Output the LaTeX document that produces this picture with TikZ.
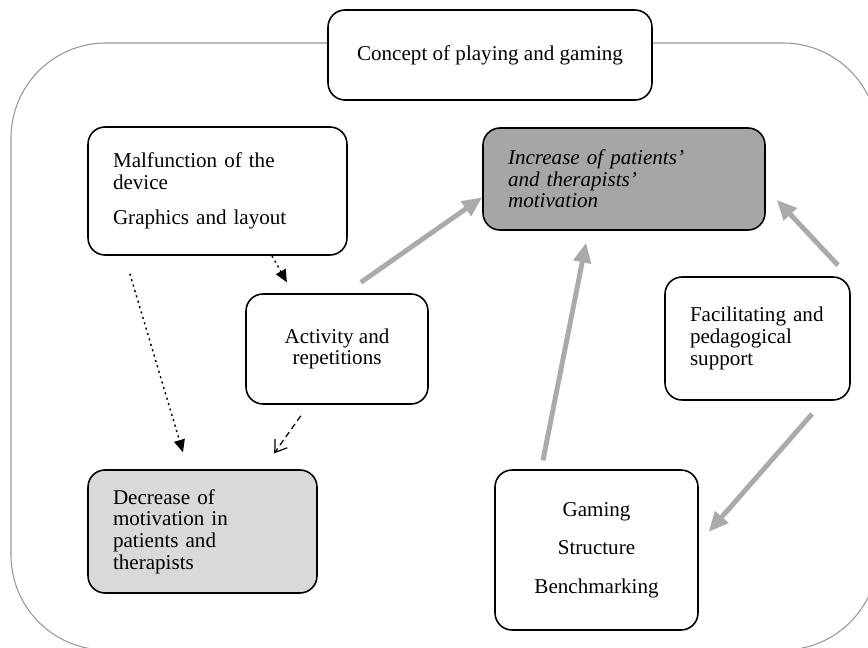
\documentclass[tikz,border=0pt]{standalone}
\usepackage{fontspec}
\setmainfont{Liberation Serif}
\usepackage{xcolor}
\usepackage{tikz}
\usetikzlibrary{arrows.meta,calc}

\definecolor{incgray}{RGB}{166,166,168}
\definecolor{decgray}{RGB}{217,217,219}
\definecolor{arrowgray}{RGB}{170,170,172}
\definecolor{framegray}{RGB}{150,150,150}

\begin{document}
\begin{tikzpicture}[x=0.02cm, y=-0.02cm, font=\fontsize{12}{12.3}\selectfont]
    % Define styles
    \tikzstyle{box} = [rectangle, draw, line width=0.9pt, fill=white, rounded corners=0.34cm, inner sep=0pt]
    \tikzstyle{grayarrow} = [draw=arrowgray, line width=2.8pt, -{Triangle[length=0.4cm, width=0.34cm]}]
    \tikzstyle{dotarrow} = [draw, line width=0.8pt, dash pattern=on 1.2pt off 2pt, -{Triangle[length=0.25cm, width=0.22cm]}]
    \tikzstyle{dasharrow} = [draw, line width=0.7pt, dash pattern=on 3.4pt off 2.3pt, -{Straight Barb[length=0.22cm, width=0.3cm]}]

    \useasboundingbox (0,0) rectangle (868,648);

    % Outer frame
    \begin{scope}
        \clip (0,0) rectangle (868,648);
        \draw [framegray, line width=0.6pt, rounded corners=1.9cm] (11,43) rectangle (878,650);
    \end{scope}

    % Boxes
    \node [box, minimum width=6.48cm, minimum height=1.8cm] (concept) at (490,55) {Concept of playing and gaming};
    \node [box, minimum width=5.18cm, minimum height=2.56cm, text width=4.18cm, align=left] (malf) at (217.5,191) {Malfunction of the\\device\\[8pt]Graphics and layout};
    \node [box, fill=incgray, minimum width=5.64cm, minimum height=2.04cm, text width=4.64cm, align=left] (incr) at (624,179) {\textit{Increase of patients'\\and therapists'\\motivation}};
    \node [box, minimum width=3.64cm, minimum height=2.2cm, align=center] (act) at (337,349) {Activity and\\repetitions};
    \node [box, minimum width=3.7cm, minimum height=2.46cm, text width=2.7cm, align=left] (facil) at (757.5,338.5) {Facilitating and\\pedagogical\\support};
    \node [box, minimum width=4.06cm, minimum height=3.2cm, align=center] (gam) at (596.5,550) {Gaming\\[9.5pt]Structure\\[9.5pt]Benchmarking};
    \node [box, fill=decgray, minimum width=4.58cm, minimum height=2.46cm, text width=3.58cm, align=left] (decr) at (202.5,531.5) {Decrease of\\motivation in\\patients and\\therapists};

    % Arrows
    \draw [dotarrow, shorten <=0.375cm, shorten >=0.354cm] ($(malf.south)+(-93,0)$) -- ($(decr.north)+(-14.5,0)$);
    \draw [dotarrow, shorten >=0.25cm] ($(malf.south)+(54.5,0)$) -- ($(act.north)+(-44,0)$);
    \draw [dasharrow, shorten <=0.27cm, shorten >=0.39cm] ($(act.south)+(-28.4,0)$) -- ($(decr.north)+(60.4,0)$);

    \draw [grayarrow, shorten <=0.38cm] ($(act.north)+(8.3,0)$) -- ($(incr.west)+(0,18.3)$);
    \draw [grayarrow, shorten <=0.18cm, shorten >=0.24cm] ($(gam.north)+(-55.3,0)$) -- ($(incr.south)+(-35.6,0)$);
    \draw [grayarrow, shorten <=0.3cm, shorten >=0.32cm] ($(facil.north)+(90.7,0)$) -- ($(incr.east)+(0,9.1)$);
    \draw [grayarrow, shorten <=0.35cm, shorten >=0.3cm] ($(facil.south)+(66.1,0)$) -- ($(gam.east)+(0,-6.75)$);
\end{tikzpicture}
\end{document}
